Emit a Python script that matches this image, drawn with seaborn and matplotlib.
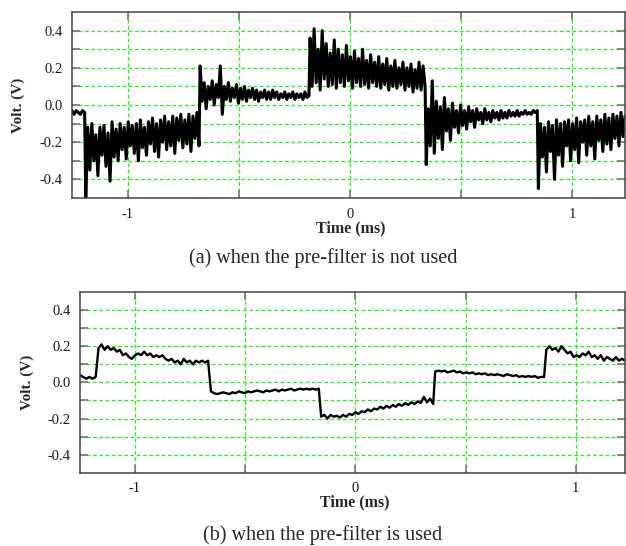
import numpy as np
import pandas as pd
import seaborn as sns
import matplotlib.pyplot as plt

# time spans (ms) of each level of the trace
a_spans = [(-1.252, -1.195), (-1.19, -0.68), (-0.675, -0.185),
           (-0.18, 0.338), (0.343, 0.843), (0.848, 1.238)]
a_lvl0 = [-0.03, -0.05, -0.03, -0.04, -0.05, -0.03, -0.04]
a_lvl1 = [-0.50, -0.12, -0.35, -0.10, -0.30, -0.16, -0.38, -0.12, -0.27, -0.11,
          -0.33, -0.15, -0.41, -0.09, -0.28, -0.13, -0.30, -0.10, -0.24, -0.12,
          -0.29, -0.09, -0.22, -0.11, -0.26, -0.10, -0.30, -0.08, -0.23, -0.12,
          -0.27, -0.09, -0.21, -0.07, -0.25, -0.10, -0.28, -0.08, -0.20, -0.06,
          -0.24, -0.09, -0.22, -0.06, -0.26, -0.07, -0.19, -0.05, -0.23, -0.08,
          -0.21, -0.05, -0.25, -0.06, -0.18, -0.04, -0.22]
a_lvl2 = [0.21, 0.02, 0.12, -0.02, 0.10, 0.03, 0.13, 0.00, 0.11, 0.04,
          0.21, -0.05, 0.10, 0.03, 0.12, 0.02, 0.09, 0.04, 0.11, 0.01,
          0.09, 0.03, 0.10, 0.02, 0.08, 0.04, 0.09, 0.03, 0.08, 0.02,
          0.07, 0.04, 0.08, 0.03, 0.07, 0.03, 0.08, 0.04, 0.07, 0.03,
          0.06, 0.04, 0.07, 0.03, 0.06, 0.04, 0.07, 0.03, 0.06, 0.04,
          0.06, 0.03, 0.07, 0.04, 0.05]
a_lvl3 = [0.36, 0.10, 0.41, 0.12, 0.30, 0.08, 0.40, 0.14, 0.33, 0.10,
          0.28, 0.11, 0.35, 0.09, 0.30, 0.12, 0.27, 0.10, 0.32, 0.13,
          0.26, 0.09, 0.29, 0.12, 0.25, 0.10, 0.30, 0.11, 0.24, 0.09,
          0.27, 0.12, 0.23, 0.10, 0.26, 0.09, 0.22, 0.11, 0.25, 0.08,
          0.21, 0.10, 0.24, 0.09, 0.20, 0.11, 0.23, 0.08, 0.20, 0.10,
          0.22, 0.07, 0.19, 0.09, 0.23, 0.08, 0.21, 0.10]
a_lvl4 = [-0.32, -0.02, -0.22, 0.13, -0.26, 0.02, -0.18, -0.01, -0.24, 0.04,
          -0.14, -0.02, -0.19, 0.01, -0.12, -0.03, -0.15, 0.00, -0.11, -0.03,
          -0.13, -0.01, -0.09, -0.03, -0.12, -0.02, -0.08, -0.04, -0.10, -0.02,
          -0.08, -0.04, -0.09, -0.03, -0.07, -0.04, -0.08, -0.03, -0.07, -0.04,
          -0.07, -0.03, -0.06, -0.04, -0.06, -0.03, -0.06, -0.04, -0.05, -0.03,
          -0.05, -0.04, -0.05, -0.03, -0.04, -0.03]
a_lvl5 = [-0.45, -0.10, -0.28, -0.12, -0.36, -0.09, -0.25, -0.11, -0.40, -0.08,
          -0.27, -0.10, -0.33, -0.09, -0.22, -0.08, -0.30, -0.10, -0.24, -0.07,
          -0.31, -0.09, -0.20, -0.08, -0.27, -0.06, -0.22, -0.09, -0.29, -0.06,
          -0.19, -0.08, -0.25, -0.05, -0.21, -0.07, -0.24, -0.05, -0.18, -0.06,
          -0.22, -0.04, -0.17, -0.06]

b_spans = [(-1.249, -1.178), (-1.165, -0.668), (-0.655, -0.166),
           (-0.155, 0.353), (0.362, 0.856), (0.866, 1.223)]
b_lvl0 = [0.04, 0.03, 0.02, 0.03, 0.02, 0.03]
b_lvl1 = [0.19, 0.21, 0.18, 0.20, 0.18, 0.19, 0.17, 0.18, 0.15, 0.16,
          0.14, 0.13, 0.15, 0.16, 0.15, 0.17, 0.15, 0.16, 0.14, 0.15,
          0.14, 0.15, 0.13, 0.12, 0.13, 0.11, 0.12, 0.10, 0.13, 0.11,
          0.12, 0.10, 0.12, 0.11, 0.12, 0.11, 0.12]
b_lvl2 = [-0.05, -0.06, -0.065, -0.06, -0.055, -0.06, -0.065, -0.055, -0.06, -0.05,
          -0.055, -0.06, -0.05, -0.055, -0.05, -0.045, -0.05, -0.055, -0.045, -0.05,
          -0.045, -0.04, -0.05, -0.04, -0.045, -0.04, -0.035, -0.045, -0.04, -0.035,
          -0.04, -0.035, -0.04, -0.035, -0.04, -0.035]
b_lvl3 = [-0.19, -0.18, -0.20, -0.18, -0.19, -0.185, -0.195, -0.18, -0.19, -0.175,
          -0.18, -0.165, -0.175, -0.16, -0.165, -0.15, -0.16, -0.145, -0.15, -0.135,
          -0.145, -0.13, -0.14, -0.125, -0.135, -0.12, -0.13, -0.115, -0.125, -0.11,
          -0.12, -0.105, -0.115, -0.08, -0.11, -0.09, -0.12]
b_lvl4 = [0.06, 0.065, 0.06, 0.065, 0.055, 0.06, 0.065, 0.055, 0.06, 0.05,
          0.055, 0.05, 0.055, 0.045, 0.05, 0.045, 0.05, 0.04, 0.045, 0.04,
          0.045, 0.04, 0.035, 0.045, 0.04, 0.035, 0.04, 0.03, 0.035, 0.03,
          0.035, 0.03, 0.035, 0.025, 0.03, 0.03]
b_lvl5 = [0.18, 0.20, 0.18, 0.19, 0.17, 0.20, 0.18, 0.16, 0.17, 0.14,
          0.15, 0.14, 0.16, 0.15, 0.17, 0.14, 0.15, 0.13, 0.15, 0.12,
          0.14, 0.13, 0.12, 0.14, 0.12, 0.13, 0.12]

y_ticks = [-0.4, -0.3, -0.2, -0.1, 0.0, 0.1, 0.2, 0.3, 0.4]
y_labels = ["-0.4", "", "-0.2", "", "0.0", "", "0.2", "", "0.4"]
x_ticks = [-1, -0.5, 0, 0.5, 1]
x_labels = ["-1", "", "0", "", "1"]
captions = ["(a) when the pre-filter is not used", "(b) when the pre-filter is used"]


def trace(spans, levels):
    # evenly sampled points inside every span
    parts = []
    for (t0, t1), vals in zip(spans, levels):
        parts.append(pd.DataFrame({"t": np.linspace(t0, t1, len(vals)), "v": vals}))
    return pd.concat(parts, ignore_index=True)


df_a = trace(a_spans, [a_lvl0, a_lvl1, a_lvl2, a_lvl3, a_lvl4, a_lvl5])
df_b = trace(b_spans, [b_lvl0, b_lvl1, b_lvl2, b_lvl3, b_lvl4, b_lvl5])

sns.set_theme(style="white")
plt.rcParams["font.family"] = ["Liberation Serif", "DejaVu Serif"]

fig = plt.figure(figsize=(6.26, 5.46), dpi=100)
ax_a = fig.add_axes([0.115, 0.6374, 0.8834, 0.3406])
ax_b = fig.add_axes([0.1278, 0.1342, 0.8706, 0.3310])

setups = [(ax_a, df_a, (-1.252, 1.238), 2.2, captions[0], 1 - 258 / 546),
          (ax_b, df_b, (-1.249, 1.223), 1.7, captions[1], 1 - 535 / 546)]

for ax, df, xl, lw, cap, cy in setups:
    ax.set_axisbelow(True)
    sns.lineplot(data=df, x="t", y="v", ax=ax, color="black", lw=lw,
                 estimator=None, sort=False)
    ax.set_xlim(*xl)
    ax.set_ylim(-0.5, 0.5)

    ax.set_yticks(y_ticks)
    ax.set_yticklabels(y_labels)
    ax.set_xticks(x_ticks)
    ax.set_xticklabels(x_labels)

    ax.grid(True, color="#22ee22", linestyle=(0, (3, 2)), linewidth=0.9)
    ax.tick_params(direction="in", length=6, width=1.2, color="#777777",
                   labelsize=10.5, labelcolor="#1a1a1a", pad=7,
                   top=True, right=True, bottom=True, left=True)
    for sp in ax.spines.values():
        sp.set_color("#444444")
        sp.set_linewidth(1.1)

    ax.set_ylabel("Volt. (V)", fontsize=11, fontweight="bold")
    ax.yaxis.set_label_coords(-0.085, 0.5)
    ax.set_xlabel("Time (ms)", fontsize=11.5, fontweight="bold")
    ax.xaxis.set_label_coords(0.504, -0.12)

    fig.text(0.516, cy, cap, ha="center", va="center", fontsize=14.5)

fig.savefig("out.png", dpi=100)
